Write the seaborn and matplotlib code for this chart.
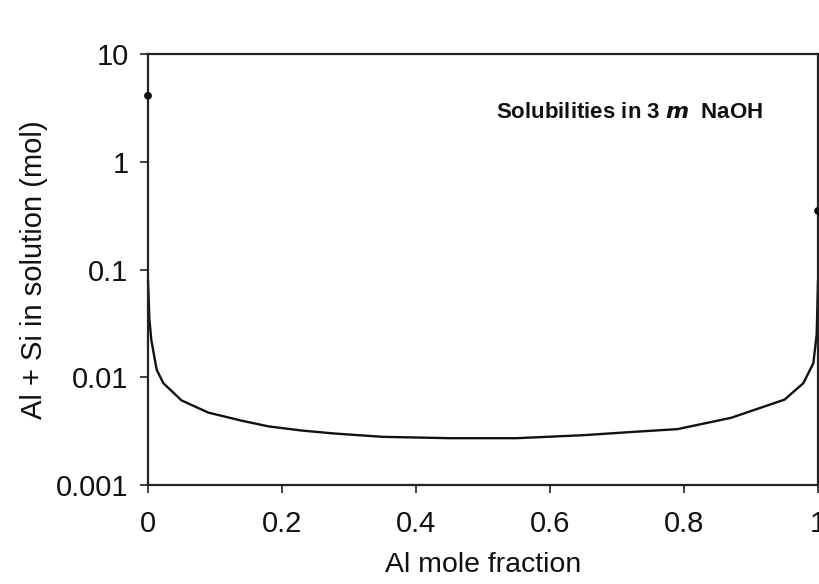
import matplotlib
matplotlib.use("Agg")
import matplotlib.pyplot as plt
import seaborn as sns
import pandas as pd

# Curve data (Al mole fraction vs Al + Si in solution, mol)
al_fraction = [0.0, 0.002, 0.005, 0.013, 0.023, 0.05, 0.09, 0.14, 0.18, 0.23,
               0.28, 0.35, 0.45, 0.55, 0.65, 0.72, 0.79, 0.87, 0.95, 0.978,
               0.993, 0.998, 1.0]
solubility = [0.08, 0.035, 0.022, 0.0117, 0.0088, 0.0061, 0.0047, 0.00395,
              0.0035, 0.0032, 0.0030, 0.0028, 0.00272, 0.00272, 0.0029,
              0.0031, 0.0033, 0.0042, 0.0062, 0.0088, 0.0135, 0.025, 0.08]

# End-member points
end_x = [0.0, 1.0]
end_y = [4.1, 0.35]

x_ticks = [0, 0.2, 0.4, 0.6, 0.8, 1]
x_tick_labels = ["0", "0.2", "0.4", "0.6", "0.8", "1"]
y_ticks = [0.001, 0.01, 0.1, 1, 10]
y_tick_labels = ["0.001", "0.01", "0.1", "1", "10"]

sns.set_theme(style="ticks")
plt.rcParams["font.family"] = ["Liberation Sans", "DejaVu Sans"]

fig = plt.figure(figsize=(8.2, 5.84), dpi=100)
ax = fig.add_axes([0.1805, 0.1695, 0.8171, 0.738])

curve = pd.DataFrame({"x": al_fraction, "y": solubility})
ends = pd.DataFrame({"x": end_x, "y": end_y})

sns.lineplot(data=curve, x="x", y="y", ax=ax, color="#111111", lw=1.7,
             sort=False, clip_on=False)
sns.scatterplot(data=ends, x="x", y="y", ax=ax, color="#111111", s=32,
                edgecolor="none", clip_on=False, zorder=5)

ax.set_yscale("log")
ax.set_xlim(0, 1)
ax.set_ylim(0.001, 10)
ax.set_xticks(x_ticks)
ax.set_xticklabels(x_tick_labels)
ax.set_yticks(y_ticks)
ax.set_yticklabels(y_tick_labels)
ax.minorticks_off()

for s in ax.spines.values():
    s.set_visible(True)
    s.set_color("#222222")
    s.set_linewidth(1.6)

ax.tick_params(axis="both", direction="out", length=6, width=1.2,
               colors="#222222", labelsize=21, labelcolor="#111111")
ax.tick_params(axis="y", pad=8)
ax.tick_params(axis="x", pad=12)

ax.set_xlabel("Al mole fraction", fontsize=20.5, color="#111111", labelpad=10)
ax.set_ylabel("Al + Si in solution (mol)", fontsize=21, color="#111111",
              labelpad=6)

ax.text(0.52, 0.865, "Solubilities in 3 $\\mathbfit{m}$  NaOH", transform=ax.transAxes,
        fontsize=16, fontweight="bold", color="#111111", ha="left",
        va="center")

fig.savefig("out.png", dpi=100, facecolor="white")
